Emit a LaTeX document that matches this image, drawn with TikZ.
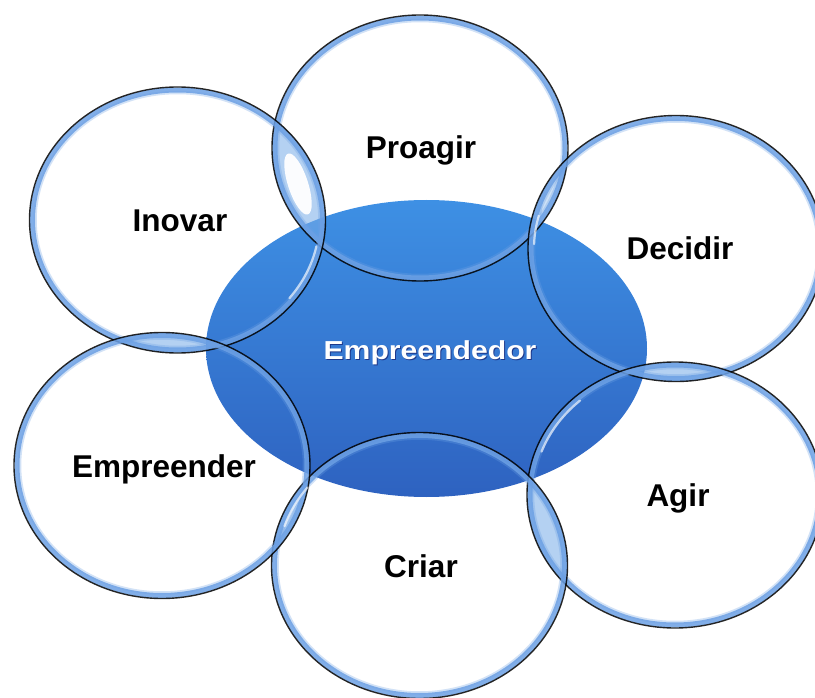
\documentclass[tikz,border=0pt]{standalone}
\usepackage{fontspec}
\setmainfont{Liberation Sans}
\definecolor{ellTop}{RGB}{62,144,228}
\definecolor{ellBot}{RGB}{46,98,192}
\definecolor{rimblue}{RGB}{108,160,228}
\definecolor{lensblue}{RGB}{120,172,232}
\definecolor{shadowblue}{RGB}{20,30,110}
\tikzset{
  lbl/.style={font=\fontsize{31.5}{36}\selectfont\bfseries, anchor=base, inner sep=0pt, text=black},
  centerlbl/.style={font=\fontsize{26}{30}\selectfont\bfseries, anchor=base, inner sep=0pt, xscale=1.16},
  outline/.style={draw=black, line width=1.4pt, draw opacity=0.85},
  glint/.style={draw=white, line cap=round, line width=2.2pt, draw opacity=0.65},
}
\newcommand\bubblerim[1]{%
  \draw[rimblue, line width=3.5pt, draw opacity=0.3] (#1) ellipse (142.5pt and 127.5pt);
  \draw[rimblue, line width=5pt, draw opacity=0.85] (#1) ellipse (145pt and 130pt);
  \draw[outline] (#1) ellipse (148pt and 133pt);
}
\newcommand\lens[2]{%
  \begin{scope}
    \clip (#1) ellipse (148pt and 133pt);
    \fill[lensblue, fill opacity=0.55] (#2) ellipse (148pt and 133pt);
  \end{scope}
}
\begin{document}
\begin{tikzpicture}[x=1pt,y=-1pt]
\useasboundingbox (0,0) rectangle (815,698);
\clip (0,0) rectangle (815,698);
\fill[white] (0,0) rectangle (815,698);
% centres
\coordinate (core) at (426.5,348.5);
\coordinate (cProagir) at (420,148);
\coordinate (cInovar) at (177.5,220);
\coordinate (cDecidir) at (676,248.5);
\coordinate (cAgir) at (675,495);
\coordinate (cCriar) at (419.5,565.5);
\coordinate (cEmpreender) at (162,465.5);
% central ellipse
\shade[top color=ellTop, bottom color=ellBot] (core) ellipse (220.5pt and 148.5pt);
% lenses
\lens{cInovar}{cProagir}
\lens{cProagir}{cDecidir}
\lens{cDecidir}{cAgir}
\lens{cAgir}{cCriar}
\lens{cCriar}{cEmpreender}
\lens{cEmpreender}{cInovar}
% highlights inside lenses
\begin{scope}[shift={(298,184)}, rotate=18]
  \fill[white, fill opacity=0.95] (0,0) ellipse (10pt and 32pt);
\end{scope}
\begin{scope}[shift={(552,190)}, rotate=-20]
  \fill[white, fill opacity=0.35] (0,0) ellipse (5pt and 26pt);
\end{scope}
% rims
\bubblerim{cProagir}
\bubblerim{cInovar}
\bubblerim{cDecidir}
\bubblerim{cAgir}
\bubblerim{cCriar}
\bubblerim{cEmpreender}
% glints where the bubbles cross the central ellipse
\draw[glint] (cInovar) ++(-12:142pt and 127pt) arc[start angle=-12, end angle=-38, x radius=142pt, y radius=127pt];
\draw[glint] (cAgir) ++(160:142pt and 127pt) arc[start angle=160, end angle=132, x radius=142pt, y radius=127pt];
\draw[glint] (cDecidir) ++(178:142pt and 127pt) arc[start angle=178, end angle=165, x radius=142pt, y radius=127pt];
\draw[glint] (cCriar) ++(162:142pt and 127pt) arc[start angle=162, end angle=142, x radius=142pt, y radius=127pt];
% labels
\node[lbl] (proagir) at (421,159) {Proagir};
\node[lbl] (inovar) at (180,231.5) {Inovar};
\node[lbl] (decidir) at (680,259.5) {Decidir};
\node[lbl] (agir) at (678,506) {Agir};
\node[lbl] (criar) at (421,577.5) {Criar};
\node[lbl] (empreender) at (164,477) {Empreender};
\node[centerlbl, text=shadowblue, opacity=0.7] (empshadow) at (431,360.3) {Empreendedor};
\node[centerlbl, text=white] (empreendedor) at (430,359.3) {Empreendedor};
\end{tikzpicture}
\end{document}
